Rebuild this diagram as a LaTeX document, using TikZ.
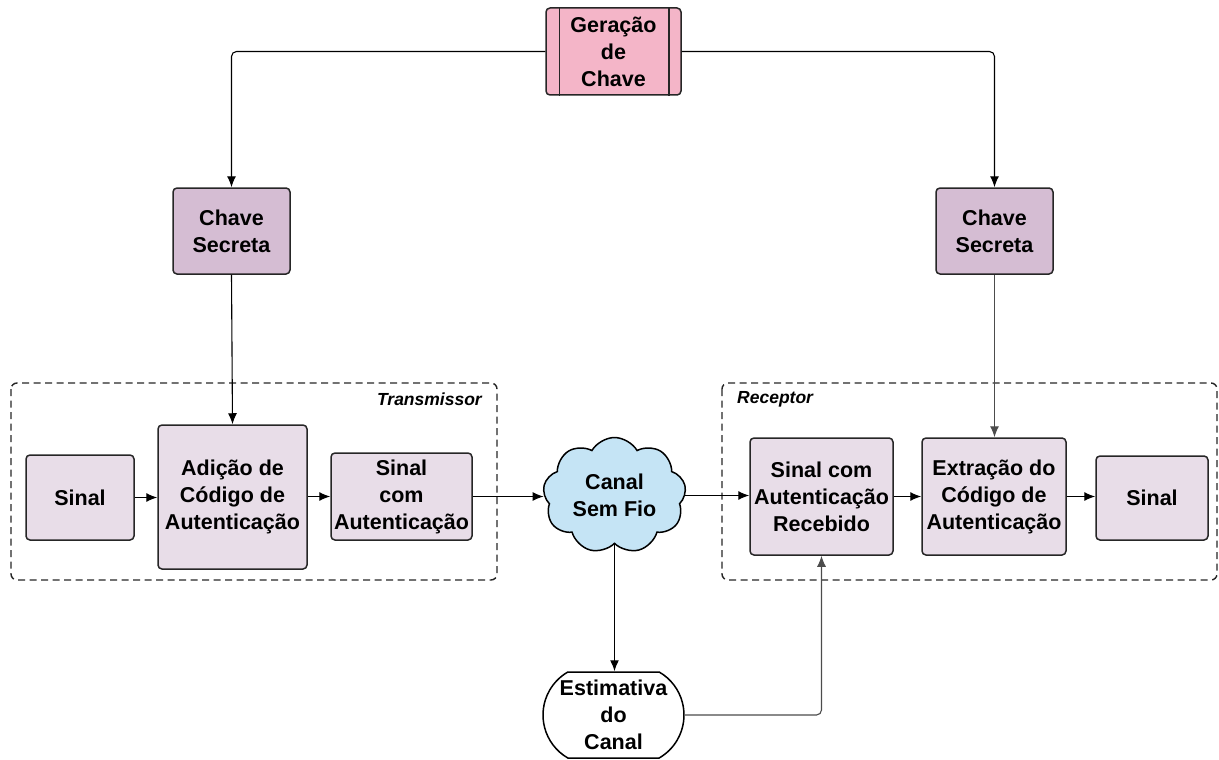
\documentclass[tikz,border=0pt]{standalone}
\usepackage{fontspec}
\setmainfont{Liberation Sans}
\usetikzlibrary{shapes.symbols,shapes.misc,arrows.meta}
\definecolor{genc}{HTML}{F4B5C8}
\definecolor{keyc}{HTML}{D5BDD3}
\definecolor{boxc}{HTML}{E8DDE8}
\definecolor{cloudc}{HTML}{C5E4F5}
\begin{document}
\begin{tikzpicture}[x=1pt,y=-1pt,
  txt/.style={align=center,font=\bfseries\fontsize{21.5}{27}\selectfont,inner sep=0pt},
  box/.style={txt,draw=black!85,line width=1.5pt,rounded corners=4pt,fill=boxc},
  keybox/.style={box,fill=keyc},
  conn/.style={line width=1.1pt,rounded corners=5pt},
  arr/.style={conn,-{Latex[length=11pt,width=9pt]}},
  frame/.style={draw=black!85,line width=1.4pt,dash pattern=on 7pt off 4.5pt,rounded corners=6pt},
  flabel/.style={font=\bfseries\itshape\fontsize{17.5}{20}\selectfont,inner sep=0pt}]
\useasboundingbox (0,0) rectangle (1219,760);
% frames
\draw[frame] (11,383) rectangle (497,580);
\draw[frame] (722,383) rectangle (1217,580);
\node[flabel,anchor=east] (tx) at (482,399) {Transmissor};
\node[flabel,anchor=west] (rx) at (737,399) {Receptor};
% key generation
\node[box,fill=genc,minimum width=135pt,minimum height=87pt] (gen) at (613.5,51.5) {Geração\\de\\Chave};
\draw[line width=1.5pt,draw=black!85] ([xshift=14pt]gen.north west) -- ([xshift=14pt]gen.south west)
  ([xshift=-13pt]gen.north east) -- ([xshift=-13pt]gen.south east);
% keys
\node[keybox,minimum width=117pt,minimum height=86pt] (chL) at (231.5,231) {Chave\\Secreta};
\node[keybox,minimum width=117pt,minimum height=86pt] (chR) at (994.5,231) {Chave\\Secreta};
% transmitter
\node[box,minimum width=108pt,minimum height=85pt] (s1) at (80,497.5) {Sinal};
\node[box,minimum width=149pt,minimum height=144pt] (adic) at (232.5,497) {Adição de\\Código de\\Autenticação};
\node[box,minimum width=141pt,minimum height=87pt] (saut) at (401.5,496.5) {Sinal\\com\\Autenticação};
% channel
\node[txt,cloud,cloud puffs=9,cloud puff arc=120,aspect=1.2,draw=black,line width=1.5pt,fill=cloudc,minimum width=143pt,minimum height=115pt] (cloud) at (614.5,495.5) {Canal\\Sem Fio};
% receiver
\node[box,minimum width=143pt,minimum height=117pt] (rec) at (821.5,496.5) {Sinal com\\Autenticação\\Recebido};
\node[box,minimum width=144pt,minimum height=117pt] (ext) at (994,496.5) {Extração do\\Código de\\Autenticação};
\node[box,minimum width=112pt,minimum height=84pt] (s2) at (1152,498) {Sinal};
% estimate
\node[txt,rounded rectangle,draw=black,line width=1.5pt,fill=white,minimum width=141pt,minimum height=86pt,rounded rectangle arc length=120] (est) at (613.5,715) {Estimativa\\do\\Canal};
% connectors
\draw[arr] (gen.west) -| (chL.north);
\draw[arr] (gen.east) -| (chR.north);
\draw[arr] (chL.south) -- (adic.north);
\draw[arr,draw=black!70] (chR.south) -- (chR.south |- ext.north);
\draw[arr] (s1.east) -- (s1.east -| adic.west);
\draw[arr] (adic.east |- saut.west) -- (saut.west);
\draw[arr] (saut.east) -- (saut.east -| cloud.west);
\draw[arr] (cloud.east) -- (cloud.east -| rec.west);
\draw[arr] (rec.east) -- (ext.west);
\draw[arr] (ext.east) -- (ext.east -| s2.west);
\draw[arr,line width=1.4pt] (cloud.south) -- (cloud.south |- est.north);
\draw[arr,draw=black!70] (est.east) -| (rec.south);
\end{tikzpicture}
\end{document}
